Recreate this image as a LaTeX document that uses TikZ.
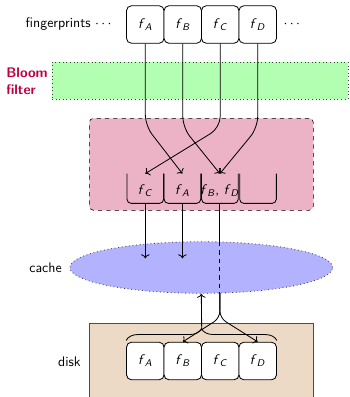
\documentclass[tikz,border=0pt]{standalone}
\usepackage{amsmath}
\usetikzlibrary{shapes.geometric,decorations.pathreplacing,arrows.meta}
% fingerprint symbol with a letter index
\newcommand{\fsub}[1]{\textit{f}\textsubscript{\textit{#1}}}

\begin{document}
\begin{tikzpicture}[x=0.72pt, y=-0.72pt, font=\sffamily,
  fpbox/.style={draw, semithick, fill=white, rounded corners=3.5pt,
    minimum width=27pt, minimum height=27pt, inner sep=0pt},
  bucket/.style={minimum width=26pt, minimum height=21pt, inner sep=0pt},
  bucketline/.style={semithick, rounded corners=3pt},
  lbl/.style={inner sep=0pt},
  link/.style={semithick, ->},
  dotborder/.style={draw=black!75, dotted, line width=0.6pt},
]
\useasboundingbox (0,0) rectangle (349,397);
\clip (0,0) rectangle (349,397);

% ---- background regions ----
\node[dotborder, fill=green!30, inner sep=0pt,
      minimum width=296*0.72pt, minimum height=37*0.72pt] (bloom) at (200,80.5) {};
\node[draw, dashed, fill=purple!30, rounded corners=3pt, inner sep=0pt,
      minimum width=224*0.72pt, minimum height=92*0.72pt] (filter) at (201.3,164.3) {};
\node[ellipse, dotborder, fill=blue!30, inner sep=0pt,
      minimum width=262.7*0.72pt, minimum height=51.6*0.72pt] (cache) at (201.3,267.5) {};
\node[draw=black!70, fill=brown!30, inner sep=0pt, anchor=north,
      minimum width=224*0.72pt, minimum height=90*0.72pt] (disk) at (201.3,323.3) {};

% ---- labels ----
\node[lbl, anchor=east] (fplab) at (114,24.5) {fingerprints $\cdots$};
\node[lbl] (more) at (293,24.5) {$\cdots$};
\node[lbl, anchor=west, align=left, text=purple, font=\sffamily\bfseries] (bloomlab) at (6,81) {Bloom\\filter};
\node[lbl, anchor=east] (cachelab) at (62,268) {cache};
\node[lbl, anchor=east] (disklab) at (81,362) {disk};

% ---- incoming fingerprints ----
\node[fpbox] (tA) at (145.3,24.5) {\fsub{A}};
\node[fpbox] (tB) at (182.8,24.5) {\fsub{B}};
\node[fpbox] (tC) at (220.2,24.5) {\fsub{C}};
\node[fpbox] (tD) at (257.7,24.5) {\fsub{D}};

% ---- buckets of the filter ----
\node[bucket] (b1) at (145.3,188.5) {};
\node[bucket] (b2) at (182.4,188.5) {};
\node[bucket] (b3) at (219.9,188.5) {};
\node[bucket] (b4) at (258.0,188.5) {};
\foreach \b in {b1,b2,b3,b4}
  \draw[bucketline] (\b.north west) -- (\b.south west) -- (\b.south east) -- (\b.north east);
\node[lbl] (l1) at (145.3,191) {\fsub{C}};
\node[lbl] (l2) at (182.4,191) {\fsub{A}};
\node[lbl] (l3) at (219.9,191) {\fsub{B}, \fsub{D}};

% ---- fingerprints on disk ----
\node[fpbox] (dA) at (145.3,361) {\fsub{A}};
\node[fpbox] (dB) at (182.8,361) {\fsub{B}};
\node[fpbox] (dC) at (220.2,361) {\fsub{C}};
\node[fpbox] (dD) at (257.7,361) {\fsub{D}};

% ---- hashing into buckets ----
\draw[link, rounded corners=8pt] (tA.south) -- ++(0,82) -- (b2.north);
\draw[link, rounded corners=8pt] (tB.south) -- ++(0,84) -- (b3.north);
\draw[link, rounded corners=8pt] (tC.south) -- ++(0,84) -- (b1.north);
\draw[link, rounded corners=8pt] (tD.south) -- ++(0,84) -- (b3.north);

% ---- lookups ----
\draw[link] (b1.south) -- ++(0,55);
\draw[link] (b2.south) -- ++(0,55);
\coordinate (ctop) at (219.9,242);
\coordinate (cbot) at (219.9,293);
\coordinate (fork) at (219.9,318);
\draw[semithick] (b3.south) -- (ctop);
\draw[semithick, dashed] (ctop) -- (cbot);
\draw[link, rounded corners=5pt] (cbot) -- (fork) -- (dB.north);
\draw[link, rounded corners=5pt] (cbot) -- (fork) -- (dD.north);

% ---- disk block loaded into cache ----
\draw[semithick, decorate, decoration={brace, amplitude=8.5pt}]
  ([yshift=1pt]dA.north west) -- ([yshift=1pt]dD.north east);
\coordinate (btip) at (201.7,329.5);
\draw[link] (btip) -- (cache.south);
\end{tikzpicture}
\end{document}
